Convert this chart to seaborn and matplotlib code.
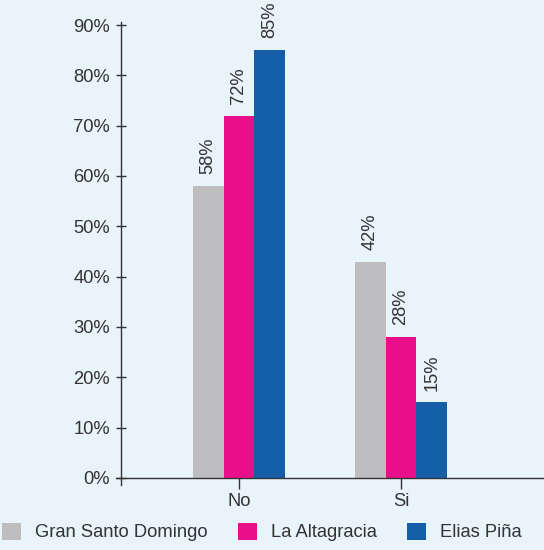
import matplotlib
matplotlib.use("Agg")
import matplotlib.pyplot as plt
import seaborn as sns
import pandas as pd
from matplotlib.patches import Patch

categories = ["No", "Si"]
regions = ["Gran Santo Domingo", "La Altagracia", "Elias Piña"]
values = {
    "Gran Santo Domingo": [58, 43],
    "La Altagracia": [72, 28],
    "Elias Piña": [85, 15],
}
labels = {
    "Gran Santo Domingo": ["58%", "42%"],
    "La Altagracia": ["72%", "28%"],
    "Elias Piña": ["85%", "15%"],
}
yticks = [0, 10, 20, 30, 40, 50, 60, 70, 80, 90]
ytick_labels = ["0%", "10%", "20%", "30%", "40%", "50%", "60%", "70%", "80%", "90%"]
colors = ["#bdbdc0", "#e90f8b", "#145fa8"]

rows = []
for r in regions:
    for c, v in zip(categories, values[r]):
        rows.append({"cat": c, "region": r, "value": v})
df = pd.DataFrame(rows)

sns.set_theme(style="white")
plt.rcParams["font.family"] = ["Liberation Sans", "DejaVu Sans"]
bg = "#e8f3fa"
txt = "#333333"
fs = 13.2

fig = plt.figure(figsize=(5.44, 5.5), dpi=100)
fig.patch.set_facecolor(bg)
ax = fig.add_axes([116/544, 1-485/550, (544-116)/544, (485-22)/550])
ax.set_facecolor(bg)

sns.barplot(data=df, x="cat", y="value", hue="region", hue_order=regions,
            order=categories, palette=colors, width=0.57, saturation=1,
            ax=ax, legend=False, edgecolor="none", linewidth=0)

ax.set_xlim(-0.759, 1.883)
ax.set_ylim(-1.4, 90.6)
ax.spines["bottom"].set_position(("data", 0))
ax.spines["left"].set_position(("data", -0.731))
for s in ["top", "right"]:
    ax.spines[s].set_visible(False)
for s in ["bottom", "left"]:
    ax.spines[s].set_color("#333333")
    ax.spines[s].set_linewidth(1.0)

ax.set_yticks(yticks)
ax.set_yticklabels(ytick_labels, fontsize=fs, color=txt)
ax.tick_params(axis="y", left=True, direction="inout", length=7, width=1,
               color="#333333", pad=4)
ax.tick_params(axis="x", bottom=True, direction="out", length=8, width=1,
               color="#333333", pad=3, labelsize=fs, labelcolor=txt)
ax.set_xlabel("")
ax.set_ylabel("")

for cont, r in zip(ax.containers, regions):
    ax.bar_label(cont, labels=labels[r], rotation=90, padding=8.5, fontsize=fs,
                 color=txt, clip_on=False)

handles = [Patch(facecolor=c, edgecolor="none") for c in colors]
fig.legend(handles, regions, loc="center left", bbox_to_anchor=(2/544, 1-532/550),
           ncol=3, frameon=False, fontsize=fs, handlelength=1.05, handleheight=1.05,
           handletextpad=0.75, columnspacing=1.65, borderpad=0, borderaxespad=0,
           labelcolor=txt)

fig.savefig("out.png", dpi=100, facecolor=bg)
